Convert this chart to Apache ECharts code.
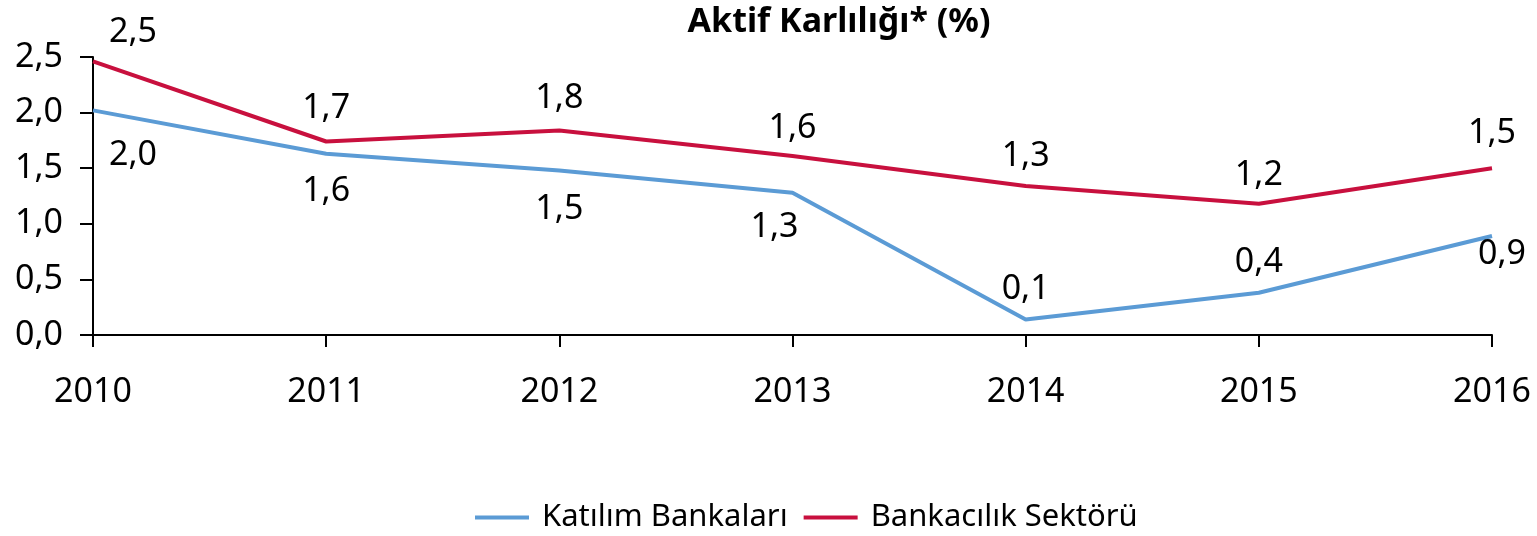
<!DOCTYPE html>
<html>
<head>
<meta charset="utf-8">
<script src="https://cdn.jsdelivr.net/npm/echarts@6/dist/echarts.min.js"></script>
<style>html,body{margin:0;padding:0;background:#fff;}#c{width:1537px;height:536px;}</style>
</head>
<body>
<div id="c"></div>
<script>
const years = ['2010','2011','2012','2013','2014','2015','2016'];
const katilim = [2.02, 1.63, 1.48, 1.28, 0.14, 0.38, 0.89];
const bankacilik = [2.46, 1.74, 1.84, 1.61, 1.34, 1.18, 1.50];
const seriesNames = ['Katılım Bankaları', 'Bankacılık Sektörü'];
const titleText = 'Aktif Karlılığı* (%)';

// label layout (positions only)
const katLabelPos = [
  ['bottom', [40, 24]], ['bottom', [0, 17]], ['bottom', [0, 18]], ['bottom', [-18, 14]],
  ['top', [0, -9]], ['top', [0, -9]], ['bottom', [10, -3]]
];
const bankLabelPos = [
  ['top', [40, -8]], ['top', [0, -12]], ['top', [0, -11]], ['top', [0, -7]],
  ['top', [0, -9]], ['top', [0, -7]], ['top', [0, -14]]
];

const FONT = '"Noto Sans", "Open Sans", sans-serif';
const fmt = v => v.toFixed(1).replace('.', ',');

function build(values, pos) {
  return values.map((v, i) => ({
    value: v,
    label: { position: pos[i][0], offset: pos[i][1] }
  }));
}

const chart = echarts.init(document.getElementById('c'));
chart.setOption({
  animation: false,
  title: {
    text: titleText, left: 834, top: 0, textAlign: 'center',
    textStyle: { fontFamily: FONT, fontWeight: 'bold', fontSize: 34, color: '#000' }
  },
  legend: {
    bottom: -2, left: 470, itemWidth: 54, itemHeight: 4, itemGap: 16, icon: 'rect',
    textStyle: { fontFamily: FONT, fontSize: 31, color: '#000', padding: [0, 0, 0, 8] },
    data: seriesNames
  },
  grid: { left: 93, right: 45, top: 57, bottom: 201 },
  xAxis: {
    type: 'category', data: years, boundaryGap: false,
    axisLine: { lineStyle: { color: '#000', width: 2 } },
    axisTick: { show: true, length: 12, inside: false, lineStyle: { color: '#000', width: 2 } },
    axisLabel: { color: '#000', fontFamily: FONT, fontSize: 34, margin: 40 }
  },
  yAxis: {
    type: 'value', min: 0, max: 2.5, interval: 0.5,
    axisLine: { show: true, lineStyle: { color: '#000', width: 2 } },
    axisTick: { show: true, length: 13, lineStyle: { color: '#000', width: 2 } },
    splitLine: { show: false },
    axisLabel: { color: '#000', fontFamily: FONT, fontSize: 34, margin: 30, formatter: v => fmt(v) }
  },
  series: [
    {
      name: seriesNames[0], type: 'line', data: build(katilim, katLabelPos),
      symbol: 'circle', symbolSize: 0, showSymbol: true,
      lineStyle: { color: '#5B9BD5', width: 4 }, itemStyle: { color: '#5B9BD5' },
      label: { show: true, color: '#000', fontFamily: FONT, fontSize: 34, lineHeight: 32, distance: 5,
        formatter: p => fmt(p.value) }
    },
    {
      name: seriesNames[1], type: 'line', data: build(bankacilik, bankLabelPos),
      symbol: 'circle', symbolSize: 0, showSymbol: true,
      lineStyle: { color: '#C8103E', width: 4 }, itemStyle: { color: '#C8103E' },
      label: { show: true, color: '#000', fontFamily: FONT, fontSize: 34, lineHeight: 32, distance: 5,
        formatter: p => fmt(p.value) }
    }
  ]
});
</script>
</body>
</html>
